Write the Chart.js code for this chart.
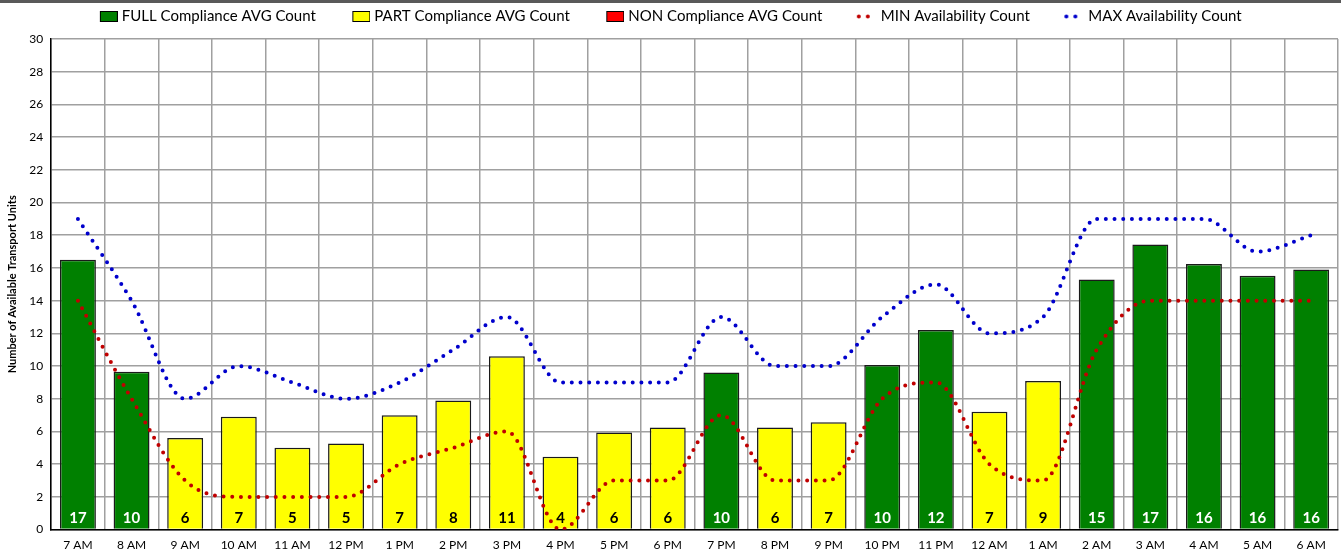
<!DOCTYPE html>
<html>
<head>
<meta charset="utf-8">
<script src="https://cdn.jsdelivr.net/npm/chart.js@4.4.1/dist/chart.umd.min.js"></script>
<style>
  body { margin: 0; background: #fff; overflow: hidden; }
  #wrap { width: 1341px; height: 557px; border-top: 3px solid #595959; position: relative; }
</style>
</head>
<body>
<div id="wrap"><canvas id="chart"></canvas></div>
<script>
// hours of the day, 7 AM through 6 AM
var hours = ['7 AM', '8 AM', '9 AM', '10 AM', '11 AM', '12 PM', '1 PM', '2 PM', '3 PM', '4 PM', '5 PM', '6 PM',
             '7 PM', '8 PM', '9 PM', '10 PM', '11 PM', '12 AM', '1 AM', '2 AM', '3 AM', '4 AM', '5 AM', '6 AM'];

var fullAvg = [16.5, 9.65, null, null, null, null, null, null, null, null, null, null,
               9.6, null, null, 10.06, 12.2, null, null, 15.3, 17.44, 16.24, 15.52, 15.9];
var partAvg = [null, null, 5.6, 6.9, 5.0, 5.26, 7.0, 7.9, 10.6, 4.46, 5.93, 6.24,
               null, 6.24, 6.56, null, null, 7.2, 9.08, null, null, null, null, null];
var nonAvg = [null, null, null, null, null, null, null, null, null, null, null, null,
              null, null, null, null, null, null, null, null, null, null, null, null];
var minAvail = [14, 8, 3, 2, 2, 2, 4, 5, 6, 0, 3, 3, 7, 3, 3, 8, 9, 4, 3, 11, 14, 14, 14, 14];
var maxAvail = [19, 14, 8, 10, 9, 8, 9, 11, 13, 9, 9, 9, 13, 10, 10, 13, 15, 12, 13, 19, 19, 19, 17, 18];

var FONT = 'Lato, "Open Sans", sans-serif';

// legend icons: blank space on the left gives the wider gap between items
function boxIcon(color) {
  var c = document.createElement('canvas');
  c.width = 52; c.height = 11;
  var g = c.getContext('2d');
  g.fillStyle = color;
  g.fillRect(34.5, 0.5, 17, 10);
  g.strokeStyle = '#000';
  g.lineWidth = 1;
  g.strokeRect(34.5, 0.5, 17, 10);
  return c;
}
function dotsIcon(color) {
  var c = document.createElement('canvas');
  c.width = 52; c.height = 11;
  var g = c.getContext('2d');
  g.fillStyle = color;
  [34, 43].forEach(function(x) {
    g.beginPath(); g.arc(x, 5.5, 2, 0, Math.PI * 2); g.fill();
  });
  return c;
}
var icons = [boxIcon('#008000'), boxIcon('#FFFF00'), boxIcon('#FF0000'), dotsIcon('#C00000'), dotsIcon('#0000CC')];

// rounded value written at the foot of each bar
var barLabels = {
  id: 'barLabels',
  afterDatasetsDraw: function(chart) {
    var ctx = chart.ctx;
    var bottom = chart.scales.y.getPixelForValue(0);
    ctx.save();
    ctx.font = 'bold 15px ' + FONT;
    ctx.textAlign = 'center';
    ctx.textBaseline = 'middle';
    [0, 1].forEach(function(di) {
      var meta = chart.getDatasetMeta(di);
      meta.data.forEach(function(el, i) {
        var v = chart.data.datasets[di].data[i];
        if (v == null) return;
        ctx.fillStyle = di === 0 ? '#fff' : '#000';
        ctx.fillText(Math.round(v), el.x, bottom - 11);
      });
    });
    ctx.restore();
  }
};

// more room between legend and plot; re-centre legend ignoring the first icon's blank
var legendGap = {
  id: 'legendGap',
  beforeInit: function(chart) {
    var fit = chart.legend.fit;
    chart.legend.fit = function() {
      fit.bind(chart.legend)();
      this.height += 5;
      if (this.lineWidths) this.lineWidths[0] += 31;
    };
  }
};

var dotted = {
  type: 'line',
  borderWidth: 4,
  borderDash: [0, 8.7],
  borderCapStyle: 'round',
  pointRadius: 0,
  cubicInterpolationMode: 'monotone',
  fill: false,
  order: 1
};

new Chart(document.getElementById('chart'), {
  type: 'bar',
  data: {
    labels: hours,
    datasets: [
      { label: 'FULL Compliance AVG Count', data: fullAvg, backgroundColor: '#008000', borderColor: '#1a1a1a', borderWidth: 1.5, order: 2 },
      { label: 'PART Compliance AVG Count', data: partAvg, backgroundColor: '#FFFF00', borderColor: '#1a1a1a', borderWidth: 1.5, order: 2 },
      { label: 'NON Compliance AVG Count', data: nonAvg, backgroundColor: '#FF0000', borderColor: '#1a1a1a', borderWidth: 1.5, order: 2 },
      Object.assign({ label: 'MIN Availability Count', data: minAvail, borderColor: '#C00000', backgroundColor: '#C00000' }, dotted),
      Object.assign({ label: 'MAX Availability Count', data: maxAvail, borderColor: '#0000CC', backgroundColor: '#0000CC' }, dotted)
    ]
  },
  options: {
    responsive: true,
    maintainAspectRatio: false,
    animation: false,
    grouped: false,
    barPercentage: 0.67,
    categoryPercentage: 1.0,
    layout: { padding: { left: 4, right: 3, top: 0, bottom: 0 } },
    plugins: {
      legend: {
        position: 'top',
        labels: {
          usePointStyle: true,
          pointStyleWidth: 45,
          boxHeight: 11,
          padding: 6,
          color: '#000',
          font: { family: FONT, size: 15 },
          sort: function(a, b) { return a.datasetIndex - b.datasetIndex; },
          generateLabels: function(chart) {
            return Chart.defaults.plugins.legend.labels.generateLabels(chart).map(function(l) {
              l.pointStyle = icons[l.datasetIndex];
              return l;
            });
          }
        }
      },
      tooltip: { enabled: false }
    },
    scales: {
      x: {
        grid: { color: '#a0a0a0', lineWidth: 1.5, drawTicks: false },
        border: { color: '#000', width: 1.5 },
        ticks: { color: '#000', padding: 8, maxRotation: 0, autoSkip: false, font: { family: FONT, size: 12 } }
      },
      y: {
        min: 0,
        max: 30,
        ticks: { stepSize: 2, color: '#000', padding: 8, font: { family: FONT, size: 12 } },
        grid: { color: '#a0a0a0', lineWidth: 1.5, drawTicks: false },
        border: { color: '#000', width: 1.5 },
        title: {
          display: true,
          text: 'Number of Available Transport Units',
          color: '#000',
          font: { family: FONT, size: 11, weight: 'bold' },
          padding: 2
        }
      }
    }
  },
  plugins: [barLabels, legendGap]
});
</script>
</body>
</html>
